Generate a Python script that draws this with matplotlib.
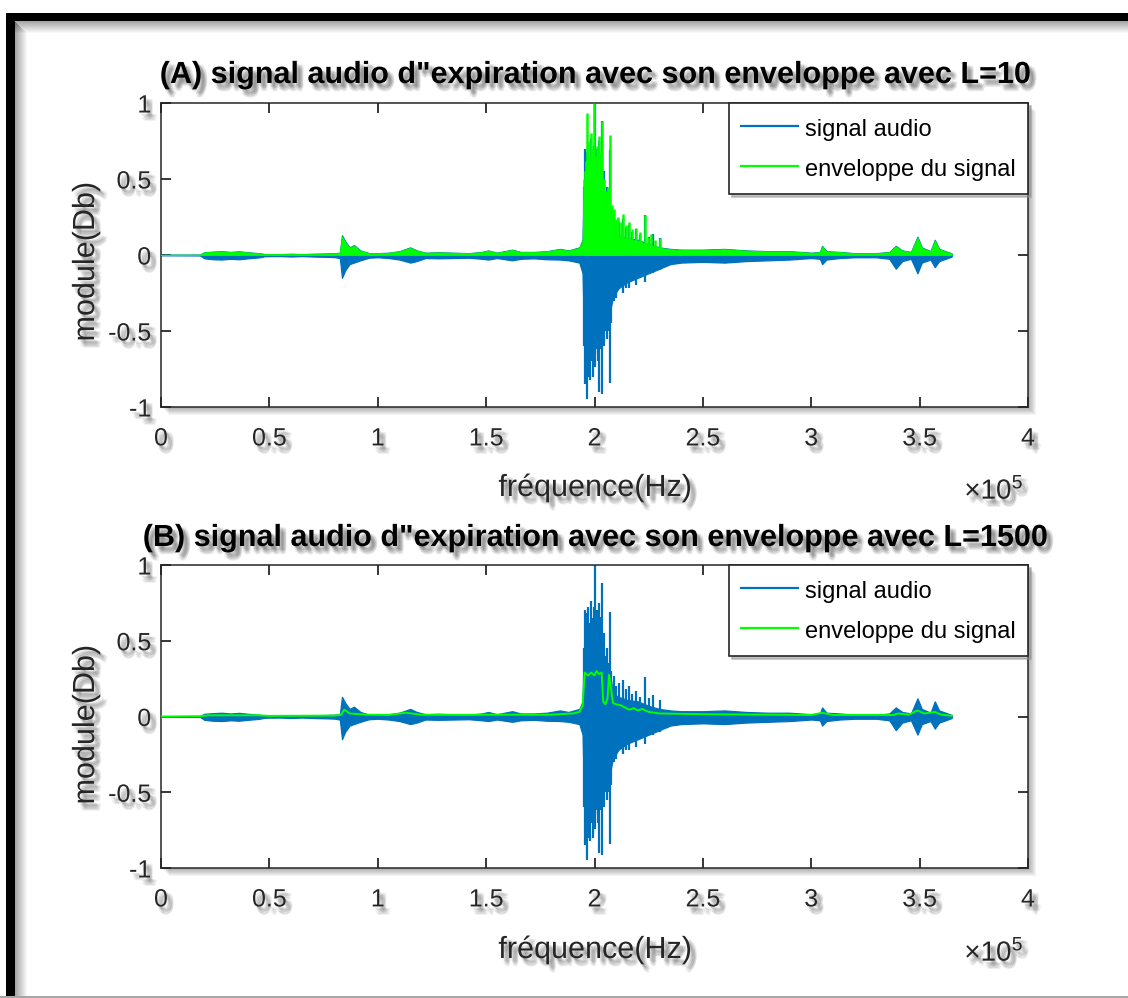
import matplotlib
matplotlib.use("Agg")
import matplotlib.pyplot as plt
from matplotlib import patheffects as pe
from matplotlib.patches import Rectangle
from matplotlib.lines import Line2D

# ---------------- data (frequency in units of 1e5 Hz) ----------------
xticks = [0, 0.5, 1, 1.5, 2, 2.5, 3, 3.5, 4]
xtick_labels = ["0", "0.5", "1", "1.5", "2", "2.5", "3", "3.5", "4"]
yticks = [-1, -0.5, 0, 0.5, 1]
ytick_labels = ["-1", "-0.5", "0", "0.5", "1"]

titles = ['(A) signal audio d"expiration avec son enveloppe avec L=10',
          '(B) signal audio d"expiration avec son enveloppe avec L=1500']
xlabel = "fréquence(Hz)"
ylabel = "module(Db)"
legend_labels = ["signal audio", "enveloppe du signal"]

# audio signal: upper / lower peak envelope
sig_x = [0.00, 0.18, 0.20, 0.24, 0.28, 0.32, 0.36, 0.40, 0.45, 0.48, 0.55, 0.60,
         0.65, 0.70, 0.76, 0.80, 0.825, 0.835, 0.85, 0.87, 0.89, 0.92, 0.96, 1.00,
         1.05, 1.10, 1.15, 1.18, 1.22, 1.28, 1.35, 1.42, 1.48, 1.51, 1.55, 1.62,
         1.66, 1.72, 1.78, 1.84, 1.88, 1.93, 1.945, 1.95, 1.97, 1.99, 2.01, 2.03,
         2.045, 2.07, 2.085, 2.11, 2.15, 2.20, 2.25, 2.30, 2.35, 2.40, 2.50, 2.60,
         2.70, 2.80, 2.90, 3.00, 3.04, 3.05, 3.07, 3.13, 3.20, 3.30, 3.36, 3.39,
         3.42, 3.46, 3.49, 3.51, 3.55, 3.57, 3.59, 3.62, 3.648]
sig_hi = [0.002, 0.003, 0.018, 0.022, 0.025, 0.020, 0.024, 0.018, 0.012, 0.006, 0.006, 0.008,
          0.006, 0.008, 0.010, 0.012, 0.015, 0.13, 0.09, 0.05, 0.065, 0.03, 0.012, 0.012,
          0.015, 0.025, 0.05, 0.03, 0.015, 0.018, 0.015, 0.012, 0.02, 0.03, 0.015, 0.035,
          0.02, 0.02, 0.025, 0.04, 0.03, 0.05, 0.10, 0.45, 0.55, 0.60, 0.55, 0.50,
          0.30, 0.30, 0.15, 0.13, 0.11, 0.10, 0.07, 0.05, 0.04, 0.035, 0.035, 0.04,
          0.03, 0.025, 0.025, 0.015, 0.02, 0.06, 0.025, 0.02, 0.012, 0.012, 0.02, 0.06,
          0.03, 0.02, 0.12, 0.05, 0.025, 0.10, 0.04, 0.025, 0.01]
sig_lo = [-0.002, -0.003, -0.022, -0.028, -0.030, -0.025, -0.028, -0.022, -0.016, -0.008, -0.007, -0.010,
          -0.007, -0.010, -0.012, -0.014, -0.02, -0.15, -0.10, -0.06, -0.05, -0.035, -0.018, -0.015,
          -0.02, -0.03, -0.05, -0.04, -0.02, -0.022, -0.02, -0.018, -0.025, -0.03, -0.02, -0.035,
          -0.025, -0.022, -0.028, -0.03, -0.035, -0.05, -0.12, -0.45, -0.50, -0.55, -0.50, -0.48,
          -0.40, -0.38, -0.28, -0.22, -0.18, -0.15, -0.12, -0.09, -0.06, -0.05, -0.045, -0.05,
          -0.04, -0.035, -0.03, -0.02, -0.025, -0.06, -0.03, -0.02, -0.015, -0.015, -0.025, -0.09,
          -0.04, -0.025, -0.12, -0.05, -0.03, -0.08, -0.04, -0.025, -0.01]

# individual peaks of the audio signal (position, top, bottom)
spk_x = [1.950, 1.955, 1.960, 1.964, 1.968, 1.972, 1.976, 1.980, 1.984, 1.988,
         1.992, 1.996, 2.000, 2.004, 2.008, 2.012, 2.016, 2.020, 2.025, 2.029,
         2.033, 2.038, 2.045, 2.050, 2.058, 2.065, 2.071, 2.078, 2.090, 2.100,
         2.115, 2.130, 2.145, 2.160, 2.175, 2.190, 2.210, 2.233, 2.250, 2.270,
         2.300]
spk_hi = [0.45, 0.70, 0.60, 0.68, 0.50, 0.72, 0.62, 0.55, 0.76, 0.65,
          0.60, 0.72, 1.00, 0.60, 0.66, 0.70, 0.58, 0.75, 0.60, 0.66,
          0.88, 0.50, 0.55, 0.40, 0.45, 0.35, 0.69, 0.30, 0.27, 0.20,
          0.22, 0.24, 0.18, 0.20, 0.15, 0.17, 0.13, 0.26, 0.12, 0.14,
          0.11]
spk_lo = [-0.60, -0.85, -0.75, -0.945, -0.80, -0.70, -0.60, -0.82, -0.65, -0.70,
          -0.80, -0.55, -0.74, -0.65, -0.60, -0.62, -0.70, -0.90, -0.55, -0.62,
          -0.915, -0.45, -0.60, -0.50, -0.55, -0.50, -0.84, -0.45, -0.30, -0.28,
          -0.20, -0.25, -0.22, -0.22, -0.17, -0.20, -0.15, -0.18, -0.12, -0.12,
          -0.10]

# (A) envelope L=10: peaks above the signal bulk
env_a_spk_x = [1.950, 1.955, 1.960, 1.964, 1.968, 1.972, 1.976, 1.980, 1.984, 1.988,
               1.992, 1.998, 2.004, 2.010, 2.016, 2.020, 2.025, 2.029, 2.033, 2.038,
               2.045, 2.052, 2.060, 2.066, 2.071, 2.080, 2.090, 2.100, 2.110, 2.120,
               2.130, 2.145, 2.160, 2.175, 2.190, 2.210, 2.233, 2.245, 2.260, 2.280,
               2.300]
env_a_spk_hi = [0.50, 0.55, 0.62, 0.936, 0.60, 0.75, 0.66, 0.62, 0.80, 0.70,
                0.70, 1.00, 0.65, 0.72, 0.62, 0.78, 0.64, 0.68, 0.88, 0.50,
                0.50, 0.42, 0.45, 0.40, 0.79, 0.33, 0.30, 0.24, 0.25, 0.22,
                0.27, 0.20, 0.22, 0.17, 0.18, 0.15, 0.26, 0.12, 0.14, 0.10,
                0.114]

# (B) envelope L=1500
env_b_x = [0.00, 0.18, 0.22, 0.45, 0.50, 0.80, 0.83, 0.845, 0.87, 0.95,
           1.05, 1.13, 1.20, 1.40, 1.50, 1.60, 1.80, 1.90, 1.93, 1.945,
           1.955, 1.97, 1.985, 2.00, 2.01, 2.02, 2.033, 2.04, 2.05, 2.06,
           2.067, 2.075, 2.085, 2.10, 2.12, 2.14, 2.16, 2.18, 2.20, 2.22,
           2.25, 2.30, 2.50, 2.80, 3.00, 3.05, 3.10, 3.38, 3.40, 3.45,
           3.49, 3.52, 3.57, 3.60, 3.648]
env_b_y = [0.000, 0.002, 0.008, 0.008, 0.004, 0.006, 0.010, 0.045, 0.020, 0.012,
           0.010, 0.025, 0.012, 0.010, 0.012, 0.012, 0.012, 0.020, 0.030, 0.070,
           0.290, 0.270, 0.290, 0.270, 0.300, 0.280, 0.290, 0.100, 0.080, 0.120,
           0.275, 0.200, 0.090, 0.080, 0.075, 0.060, 0.045, 0.055, 0.040, 0.050,
           0.030, 0.020, 0.015, 0.012, 0.010, 0.025, 0.010, 0.010, 0.020, 0.012,
           0.040, 0.020, 0.030, 0.012, 0.005]

# ---------------- style ----------------
BLUE = "#0072BD"
GREEN = "#00FF00"
DARK = "#262626"
W, H = 1128, 998

plt.rcParams["font.family"] = ["Liberation Sans", "DejaVu Sans"]
plt.rcParams["mathtext.fontset"] = "custom"
plt.rcParams["mathtext.rm"] = "Liberation Sans"

fig = plt.figure(figsize=(W / 100, H / 100), dpi=100)
fig.patch.set_facecolor("white")


def fx(px):
    return px / W


def fy(py):
    return 1 - py / H


SHADOW = [pe.SimplePatchShadow(offset=(dx, dy), shadow_rgbFace="0.25", alpha=0.075)
          for dx, dy in [(1.5, -2), (2.5, -3), (3.5, -4), (2, -4.5), (4.5, -2.5),
                         (3, -5.5), (5, -3.5), (4.5, -5), (2.5, -2.5), (3.5, -3.5),
                         (4, -6)]] + [pe.Normal()]

AX_L, AX_R = 161, 1028
panels = [(103, 407), (565, 868)]
axes = []
for (top, bot) in panels:
    ax = fig.add_axes([fx(AX_L), fy(bot), fx(AX_R) - fx(AX_L), (bot - top) / H])
    ax.set_xlim(0, 4)
    ax.set_ylim(-1, 1)
    ax.set_xticks(xticks)
    ax.set_xticklabels(xtick_labels)
    ax.set_yticks(yticks)
    ax.set_yticklabels(ytick_labels)
    ax.tick_params(direction="in", length=7, width=1.3, top=True, right=True,
                   labelsize=18, colors=DARK)
    ax.tick_params(axis="x", pad=14)
    ax.tick_params(axis="y", pad=7)
    for s in ax.spines.values():
        s.set_color(DARK)
        s.set_linewidth(1.1)
    for lab in ax.get_xticklabels() + ax.get_yticklabels():
        lab.set_path_effects(SHADOW)
    # drop shadow of the axes box
    for i in range(1, 9):
        fig.patches.append(Rectangle((fx(AX_L + i), fy(bot + i)), fx(AX_R) - fx(AX_L),
                                     (bot - top) / H, transform=fig.transFigure,
                                     facecolor="black", edgecolor="none",
                                     alpha=0.045, zorder=-5))
    axes.append(ax)

ax1, ax2 = axes

# ---- (A)
ax1.fill_between(sig_x, sig_lo, sig_hi, color=BLUE, lw=0.9, zorder=2)
ax1.vlines(spk_x, spk_lo, spk_hi, color=BLUE, lw=1.6, zorder=2)
ax1.fill_between(sig_x, 0, [v * 0.95 for v in sig_hi], color=GREEN, lw=0.6, zorder=3)
ax1.vlines(env_a_spk_x, 0, env_a_spk_hi, color=GREEN, lw=1.8, zorder=3)

# ---- (B)
ax2.fill_between(sig_x, sig_lo, sig_hi, color=BLUE, lw=0.9, zorder=2)
ax2.vlines(spk_x, spk_lo, spk_hi, color=BLUE, lw=1.6, zorder=2)
ax2.plot(env_b_x, env_b_y, color=GREEN, lw=1.4, zorder=3)

handles = [Line2D([], [], color=BLUE, lw=1.6), Line2D([], [], color=GREEN, lw=1.6)]
for ax in axes:
    leg = ax.legend(handles, legend_labels, loc="upper right", bbox_to_anchor=(1, 1),
                    borderaxespad=0, fontsize=17, frameon=True, fancybox=False,
                    edgecolor=DARK, framealpha=1, handlelength=2.4, handleheight=1.3,
                    handletextpad=0.3, borderpad=0.52, labelspacing=0.62,
                    shadow={"color": "0.55", "alpha": 0.5})
    leg.get_frame().set_linewidth(1.2)
    for t in leg.get_texts():
        t.set_color("black")

# ---- texts
title_y = [75, 538]
xlab_y = [488, 950]
ylab_y = [262, 725]
for k in range(2):
    fig.text(fx(595), fy(title_y[k]), titles[k], ha="center", va="center",
             fontsize=22, fontweight="bold", color="black", path_effects=SHADOW)
    fig.text(fx(595), fy(xlab_y[k]), xlabel, ha="center", va="center",
             fontsize=22, color=DARK, path_effects=SHADOW)
    fig.text(fx(86), fy(ylab_y[k]), ylabel, ha="center", va="center", rotation=90,
             fontsize=22, color=DARK, path_effects=SHADOW)
    fig.text(fx(994), fy(xlab_y[k] + 3), r"$\times\mathregular{10^5}$", ha="center",
             va="center", fontsize=20, color=DARK, path_effects=SHADOW)

# ---- screenshot frame
fig.patches.append(Rectangle((fx(6), fy(21)), 1 - fx(6), 8 / H, transform=fig.transFigure,
                             facecolor="black", edgecolor="none", zorder=20))
fig.patches.append(Rectangle((fx(6), 0), 9 / W, fy(13), transform=fig.transFigure,
                             facecolor="black", edgecolor="none", zorder=20))
for i in range(12):
    a = 0.35 * (1 - i / 12)
    fig.patches.append(Rectangle((fx(15), fy(22 + i)), 1 - fx(15), 1 / H,
                                 transform=fig.transFigure, facecolor="black",
                                 edgecolor="none", alpha=a, zorder=19))
    fig.patches.append(Rectangle((fx(15 + i), 0), 1 / W, fy(22 + i),
                                 transform=fig.transFigure, facecolor="black",
                                 edgecolor="none", alpha=a, zorder=19))
fig.patches.append(Rectangle((0, 0), 1, 2 / H, transform=fig.transFigure,
                             facecolor="0.65", edgecolor="none", zorder=20))

fig.savefig("out.png", dpi=100)
